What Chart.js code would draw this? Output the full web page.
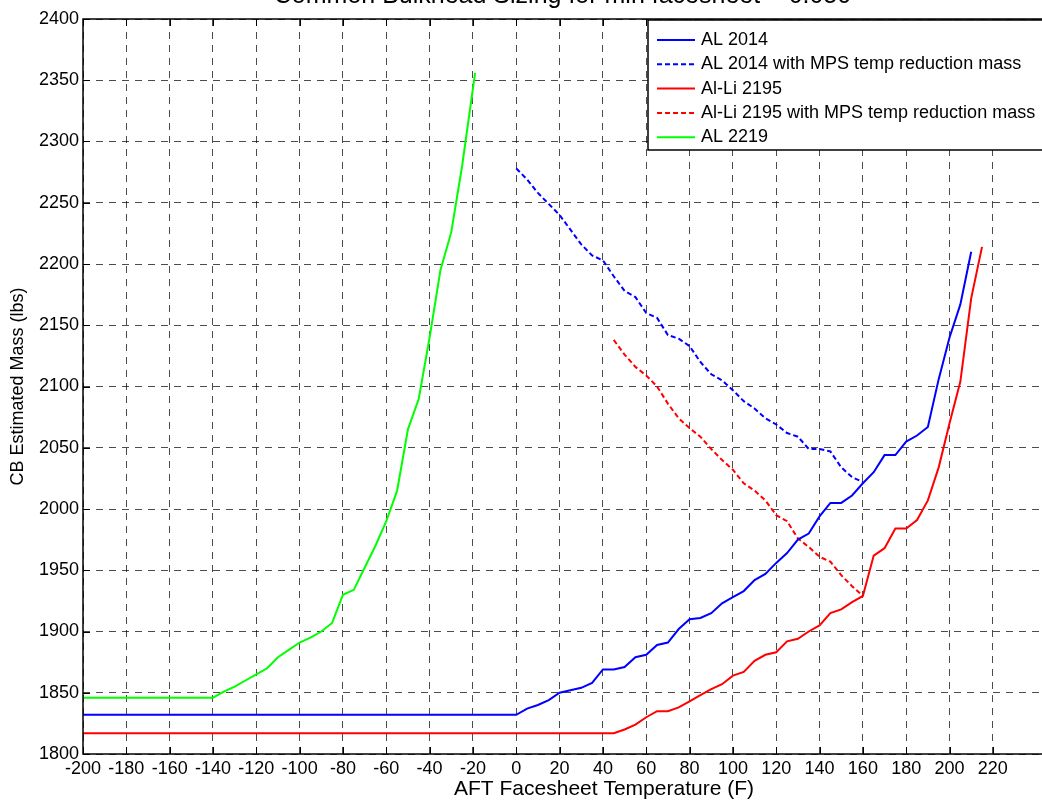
<!DOCTYPE html>
<html><head><meta charset="utf-8">
<script src="https://cdn.jsdelivr.net/npm/chart.js@4.4.1/dist/chart.umd.min.js"></script>
<style>
html,body{margin:0;padding:0;background:#fff;overflow:hidden;}
#wrap{position:relative;width:1042px;height:803px;overflow:hidden;background:#fff;}
#box{position:absolute;left:0;top:-20px;width:1130px;height:823px;}
</style></head><body>
<div id="wrap"><div id="box"><canvas id="c"></canvas></div></div>
<script>
const chartTitle = 'Common Bulkhead Sizing for min facesheet = 0.050';
const xAxisTitle = 'AFT Facesheet Temperature (F)';
const yAxisTitle = 'CB Estimated Mass (lbs)';
const xTicks = [-200,-180,-160,-140,-120,-100,-80,-60,-40,-20,0,20,40,60,80,100,120,140,160,180,200,220];
const yTicks = [1800,1850,1900,1950,2000,2050,2100,2150,2200,2250,2300,2350,2400];

const al2014X = [-200,0,5,10,15,20,25,30,35,40,45,50,55,60,65,70,75,80,85,90,95,100,105,110,115,120,125,130,135,140,145,150,155,160,165,170,175,180,185,190,195,200,205,210];
const al2014Y = [1832,1832,1837,1840,1844,1850,1852,1854,1858,1869,1869,1871,1879,1881,1889,1891,1902,1910,1911,1915,1923,1928,1933,1942,1947,1956,1964,1975,1980,1994,2005,2005,2011,2021,2030,2044,2044,2055,2060,2067,2106,2140,2167,2210];

const al2014MpsX = [0,5,10,15,20,25,30,35,40,45,50,55,60,65,70,75,80,85,90,95,100,105,110,115,120,125,130,135,140,145,150,155,160];
const al2014MpsY = [2278,2269,2258,2249,2240,2228,2216,2207,2203,2190,2178,2173,2160,2156,2142,2139,2133,2120,2110,2105,2097,2088,2082,2074,2069,2062,2059,2049,2049,2047,2034,2026,2022];

const alli2195X = [-200,45,50,55,60,65,70,75,80,85,90,95,100,105,110,115,120,125,130,135,140,145,150,155,160,165,170,175,180,185,190,195,200,205,210,215];
const alli2195Y = [1817,1817,1820,1824,1830,1835,1835,1838,1843,1848,1853,1857,1864,1867,1876,1881,1883,1892,1894,1900,1905,1915,1918,1924,1929,1962,1968,1984,1984,1991,2007,2034,2070,2104,2172,2214];

const alli2195MpsX = [45,50,55,60,65,70,75,80,85,90,95,100,105,110,115,120,125,130,135,140,145,150,155,160];
const alli2195MpsY = [2138,2126,2116,2109,2100,2086,2074,2066,2059,2049,2040,2032,2021,2015,2007,1995,1990,1976,1969,1961,1957,1946,1937,1929];

const al2219X = [-200,-140,-135,-130,-125,-120,-115,-110,-105,-100,-95,-90,-85,-80,-75,-70,-65,-60,-55,-50,-45,-40,-35,-30,-25,-19];
const al2219Y = [1846,1846,1851,1855,1860,1865,1870,1879,1885,1891,1895,1900,1907,1930,1934,1952,1970,1990,2015,2065,2090,2140,2195,2226,2280,2356];

const seriesLabels = ['AL 2014','AL 2014 with MPS temp reduction mass','Al-Li 2195','Al-Li 2195 with MPS temp reduction mass','AL 2219'];

const FONT = '"Liberation Sans", Arial, Helvetica, sans-serif';
const pts = (xs, ys) => xs.map((x, i) => ({x: x, y: ys[i]}));

function ds(label, xs, ys, color, dash) {
  return {label, data: pts(xs, ys), borderColor: color, backgroundColor: color,
    borderWidth: 2, borderDash: dash, pointRadius: 0, tension: 0, fill: false};
}

const framePlugin = {
  id: 'frame',
  afterDatasetsDraw(chart) {
    const {ctx, chartArea: a, scales: {x, y}} = chart;
    ctx.save();
    ctx.strokeStyle = '#000';
    ctx.lineWidth = 1;
    ctx.beginPath();
    xTicks.forEach(v => {
      const px = Math.round(x.getPixelForValue(v)) + 0.5;
      ctx.moveTo(px, a.bottom); ctx.lineTo(px, a.bottom - 7);
      ctx.moveTo(px, a.top); ctx.lineTo(px, a.top + 7);
    });
    yTicks.forEach(v => {
      const py = Math.round(y.getPixelForValue(v)) + 0.5;
      ctx.moveTo(a.left, py); ctx.lineTo(a.left + 7, py);
    });
    ctx.stroke();
    ctx.lineWidth = 1.5;
    ctx.strokeRect(a.left, a.top, a.right - a.left, a.bottom - a.top);
    ctx.restore();
  }
};

const legendPlugin = {
  id: 'boxLegend',
  afterDraw(chart) {
    const {ctx, chartArea: a} = chart;
    const left = a.left + 565, top = a.top + 1, w = 430, h = 130;
    ctx.save();
    ctx.fillStyle = '#fff';
    ctx.fillRect(left, top, w, h);
    ctx.strokeStyle = '#000';
    ctx.lineWidth = 1.5;
    ctx.strokeRect(left, top, w, h);
    ctx.font = '18px ' + FONT;
    ctx.textBaseline = 'middle';
    chart.data.datasets.forEach((d, i) => {
      const yy = top + 20 + i * 24.3;
      ctx.strokeStyle = d.borderColor;
      ctx.lineWidth = 2;
      ctx.setLineDash(d.borderDash || []);
      ctx.beginPath();
      ctx.moveTo(left + 9, yy); ctx.lineTo(left + 47, yy);
      ctx.stroke();
      ctx.setLineDash([]);
      ctx.fillStyle = '#000';
      ctx.fillText(d.label, left + 53, yy);
    });
    ctx.restore();
  }
};

new Chart(document.getElementById('c'), {
  type: 'line',
  data: {
    datasets: [
      ds(seriesLabels[0], al2014X, al2014Y, '#0000ff', []),
      ds(seriesLabels[1], al2014MpsX, al2014MpsY, '#0000ff', [5, 3]),
      ds(seriesLabels[2], alli2195X, alli2195Y, '#ff0000', []),
      ds(seriesLabels[3], alli2195MpsX, alli2195MpsY, '#ff0000', [5, 3]),
      ds(seriesLabels[4], al2219X, al2219Y, '#00ff00', [])
    ]
  },
  options: {
    responsive: true,
    maintainAspectRatio: false,
    animation: false,
    devicePixelRatio: 1,
    layout: {padding: {left: 0, right: 5, top: 0, bottom: 0}},
    plugins: {
      legend: {display: false},
      tooltip: {enabled: false},
      title: {display: true, text: chartTitle, color: '#000',
        font: {family: FONT, size: 25, weight: 'normal'}, padding: {top: 1, bottom: 8}}
    },
    scales: {
      x: {
        type: 'linear', min: -200, max: 281,
        afterBuildTicks(s) { s.ticks = xTicks.map(v => ({value: v})); },
        afterFit(s) { s.height = 49; },
        grid: {color: 'rgba(0,0,0,0.7)', lineWidth: 1, drawTicks: false},
        border: {display: false, dash: [7, 6]},
        ticks: {color: '#000', padding: 4, maxRotation: 0, autoSkip: false,
          font: {family: FONT, size: 18}, callback: v => String(v)},
        title: {display: true, text: xAxisTitle, color: '#000',
          font: {family: FONT, size: 21}, padding: {top: 0, bottom: 1}}
      },
      y: {
        type: 'linear', min: 1800, max: 2400,
        afterBuildTicks(s) { s.ticks = yTicks.map(v => ({value: v})); },
        afterFit(s) { s.width = 83; },
        grid: {color: 'rgba(0,0,0,0.7)', lineWidth: 1, drawTicks: false},
        border: {display: false, dash: [7, 6]},
        ticks: {color: '#000', padding: 4, autoSkip: false,
          font: {family: FONT, size: 18}, callback: v => String(v)},
        title: {display: true, text: yAxisTitle, color: '#000',
          font: {family: FONT, size: 18}, padding: {top: 7, bottom: 0}}
      }
    }
  },
  plugins: [framePlugin, legendPlugin]
});
</script>
</body></html>
